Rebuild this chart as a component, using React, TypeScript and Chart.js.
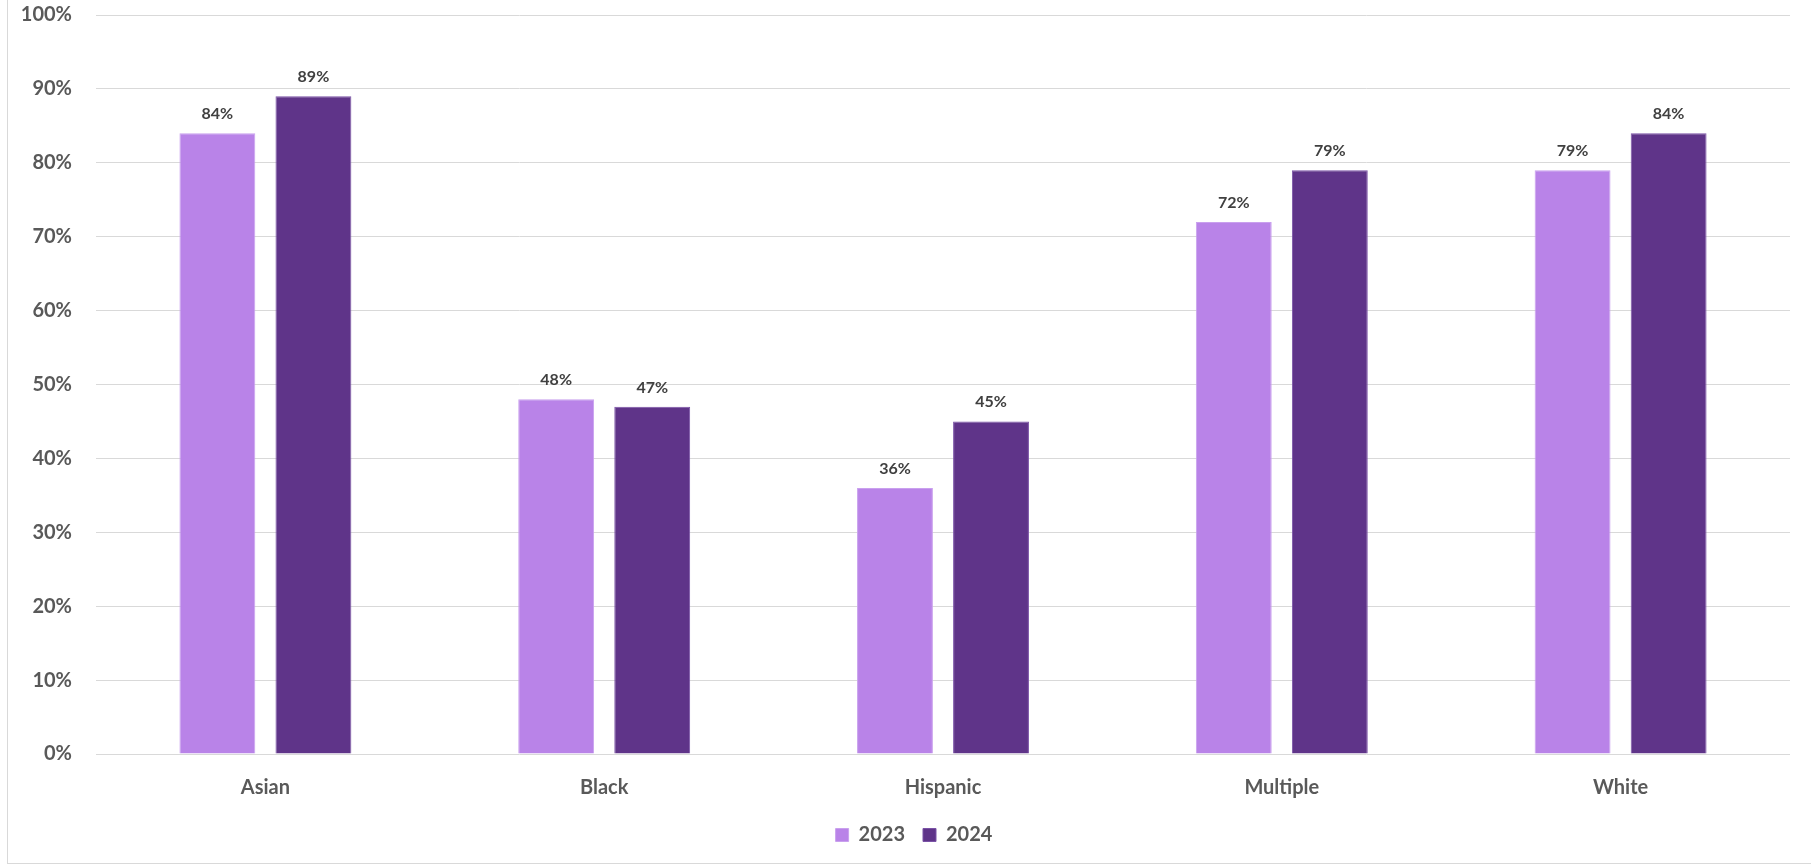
import React, { useEffect, useRef } from "react";
import { Chart, registerables } from "chart.js";

Chart.register(...registerables);

const categories = ["Asian", "Black", "Hispanic", "Multiple", "White"];
const values2023 = [84, 48, 36, 72, 79];
const values2024 = [89, 47, 45, 79, 84];
const seriesLabels = ["2023", "2024"];
const yTicks = [0, 10, 20, 30, 40, 50, 60, 70, 80, 90, 100];

const FONT = "Lato, 'Open Sans', 'Noto Sans', sans-serif";
const LIGHT = "#B983E8";
const DARK = "#5F3489";

// Writes each bar's percentage just above its top edge.
const valueLabels = {
  id: "valueLabels",
  afterDatasetsDraw(chart: any) {
    const ctx = chart.ctx;
    ctx.save();
    ctx.font = `bold 16px ${FONT}`;
    ctx.fillStyle = "#404040";
    ctx.textAlign = "center";
    ctx.textBaseline = "alphabetic";
    chart.data.datasets.forEach((ds: any, di: number) => {
      const meta = chart.getDatasetMeta(di);
      meta.data.forEach((bar: any, i: number) => {
        ctx.fillText(`${ds.data[i]}%`, bar.x, bar.y - 14);
      });
    });
    ctx.restore();
  },
};

// Nudges the legend row a little to the right of the canvas centre.
const legendShift = {
  id: "legendShift",
  afterLayout(chart: any) {
    if (chart.legend) chart.legend.left += 30;
  },
};

export default function App() {
  const canvasRef = useRef<HTMLCanvasElement | null>(null);

  useEffect(() => {
    if (!canvasRef.current) return;
    const chart = new Chart(canvasRef.current, {
      type: "bar",
      data: {
        labels: categories,
        datasets: [
          {
            label: seriesLabels[0],
            data: values2023,
            backgroundColor: LIGHT,
            borderColor: "#C9A0EE",
            borderWidth: 1,
            categoryPercentage: 0.567,
            barPercentage: 0.79,
          },
          {
            label: seriesLabels[1],
            data: values2024,
            backgroundColor: DARK,
            borderColor: "#7A52A6",
            borderWidth: 1,
            categoryPercentage: 0.567,
            barPercentage: 0.79,
          },
        ],
      },
      options: {
        responsive: false,
        animation: false,
        layout: { padding: { left: 0, right: 21, top: 15, bottom: 8 } },
        plugins: {
          tooltip: { enabled: false },
          legend: {
            position: "bottom",
            labels: {
              boxWidth: 13,
              boxHeight: 13,
              padding: 18,
              color: "#595959",
              font: { family: FONT, size: 20, weight: "bold" },
            },
          },
        },
        scales: {
          x: {
            grid: { display: false, drawTicks: false },
            border: { display: false },
            ticks: {
              padding: 22,
              color: "#595959",
              font: { family: FONT, size: 20, weight: "bold" },
            },
            afterFit(scale: any) {
              scale.height = 53;
            },
          },
          y: {
            min: 0,
            max: 100,
            afterBuildTicks(scale: any) {
              scale.ticks = yTicks.map((v) => ({ value: v }));
            },
            grid: {
              color: "#D9D9D9",
              lineWidth: 1,
              drawTicks: true,
              tickLength: 24,
              tickColor: "rgba(0,0,0,0)",
            },
            border: { display: false },
            ticks: {
              padding: 0,
              color: "#595959",
              font: { family: FONT, size: 20, weight: "bold" },
              callback: (v: any) => `${v}%`,
            },
            afterFit(scale: any) {
              scale.width = 88;
            },
          },
        },
      },
      plugins: [valueLabels, legendShift],
    });
    return () => chart.destroy();
  }, []);

  return (
    <div
      style={{
        position: "fixed",
        left: 7,
        top: 0,
        width: 1804,
        height: 864,
        boxSizing: "border-box",
        borderLeft: "1px solid #D9D9D9",
        borderBottom: "1px solid #D9D9D9",
        background: "#FFFFFF",
      }}
    >
      <canvas ref={canvasRef} width={1803} height={863} style={{ display: "block" }} />
    </div>
  );
}
